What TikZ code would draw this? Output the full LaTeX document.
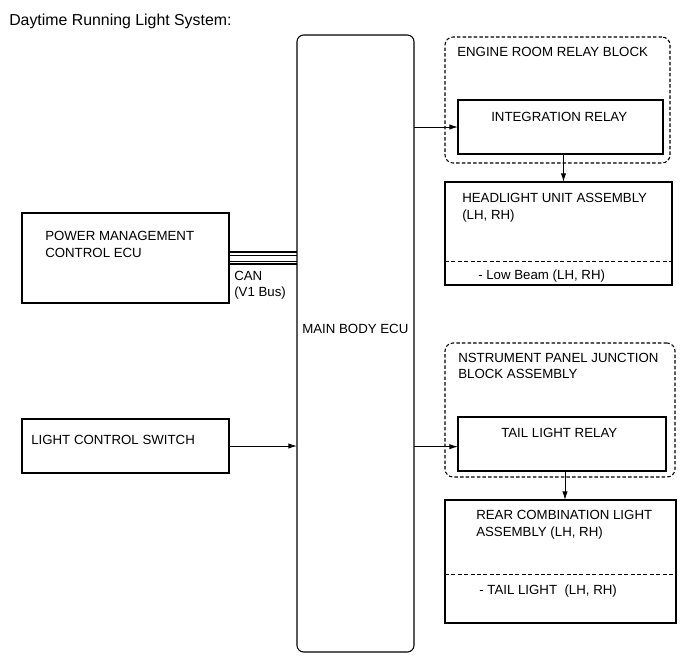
\documentclass[tikz,border=0pt]{standalone}
\usepackage{fontspec}
\setmainfont{Liberation Sans}
\usetikzlibrary{arrows.meta}
\begin{document}
\begin{tikzpicture}[x=0.75pt,y=-0.75pt,
  box/.style={draw, line width=0.8pt, anchor=north west, inner sep=0pt, outer sep=0pt},
  dbox/.style={draw, dash pattern=on 2.6pt off 1.6pt, line width=0.8pt, rounded corners=6pt, anchor=north west, inner sep=0pt, outer sep=0pt},
  lbl/.style={anchor=base west, inner sep=0pt, font=\fontsize{9.95pt}{12pt}\selectfont},
  ttl/.style={anchor=base west, inner sep=0pt, font=\fontsize{11.9pt}{14pt}\selectfont},
  arr/.style={line width=0.75pt, -{Latex[length=6.5pt,width=4pt]}},
  sep/.style={line width=0.65pt, dash pattern=on 3pt off 1.8pt},
]
\newcommand\bx[5]{\node[#1, minimum width=#4*0.75pt, minimum height=#5*0.75pt] (#2) at (#3) {};}
\useasboundingbox (0,0) rectangle (691,660);

% title
\node[ttl] (title) at (9,26) {Daytime Running Light System:};

% boxes
\bx{box, rounded corners=5pt}{ecu}{297,35}{117}{617}
\bx{dbox}{erb}{445,37}{225}{126}
\bx{box}{ir}{458,100}{205}{54}
\bx{box}{hl}{445,182}{227}{103}
\bx{dbox}{ipj}{445,343}{230}{134}
\bx{box}{tl}{458,417}{208}{54}
\bx{box}{rc}{445,500}{231}{123}
\bx{box}{pm}{22,213}{207}{90}
\bx{box}{ls}{22,419}{207}{54}

% separators in the load boxes
\coordinate (hlsep) at (0,261);
\coordinate (rcsep) at (0,574);
\draw[sep] (hl.west |- hlsep) -- (hl.east |- hlsep);
\draw[sep] (rc.west |- rcsep) -- (rc.east |- rcsep);

% texts
\node[lbl] (tecu) at (302,333) {MAIN BODY ECU};
\node[lbl] (terb) at (457,56) {ENGINE ROOM RELAY BLOCK};
\node[lbl] (tir) at (491,121) {INTEGRATION RELAY};
\node[lbl] (thl1) at (462,202) {HEADLIGHT UNIT ASSEMBLY};
\node[lbl] (thl2) at (462,219) {(LH, RH)};
\node[lbl] (thl3) at (478,279) {- Low Beam (LH, RH)};
\node[lbl] (tipj1) at (458,362) {NSTRUMENT PANEL JUNCTION};
\node[lbl] (tipj2) at (458,378) {BLOCK ASSEMBLY};
\node[lbl] (ttl) at (501,437.5) {TAIL LIGHT RELAY};
\node[lbl] (trc1) at (476,519) {REAR COMBINATION LIGHT};
\node[lbl] (trc2) at (476,536) {ASSEMBLY (LH, RH)};
\node[lbl] (trc3) at (479,594) {- TAIL LIGHT\ \ (LH, RH)};
\node[lbl] (tpm1) at (45,240) {POWER MANAGEMENT};
\node[lbl] (tpm2) at (45,257) {CONTROL ECU};
\node[lbl] (tcan1) at (234,280) {CAN};
\node[lbl] (tcan2) at (234,296) {(V1 Bus)};
\node[lbl] (tls) at (31,444) {LIGHT CONTROL SWITCH};

% CAN bus lines
\coordinate (can1) at (0,252);
\coordinate (can2) at (0,255.5);
\coordinate (can3) at (0,261);
\coordinate (can4) at (0,264);
\draw[line width=1.7pt] (pm.east |- can1) -- (ecu.west |- can1);
\draw[line width=0.65pt] (pm.east |- can2) -- (ecu.west |- can2);
\draw[line width=0.65pt] (pm.east |- can3) -- (ecu.west |- can3);
\draw[line width=1.7pt] (pm.east |- can4) -- (ecu.west |- can4);

% arrows
\draw[arr] (ecu.east |- ir.west) -- (ir.west);
\draw[arr] ([xshift=2.25pt]ir.south) -- ([xshift=2.25pt]ir.south |- hl.north);
\draw[arr] (ls.east) -- (ls.east -| ecu.west);
\draw[arr] ([yshift=-2pt]ecu.east |- tl.west) -- ([yshift=-2pt]tl.west);
\draw[arr] ([xshift=2.25pt]tl.south) -- ([xshift=2.25pt]tl.south |- rc.north);
\end{tikzpicture}
\end{document}
